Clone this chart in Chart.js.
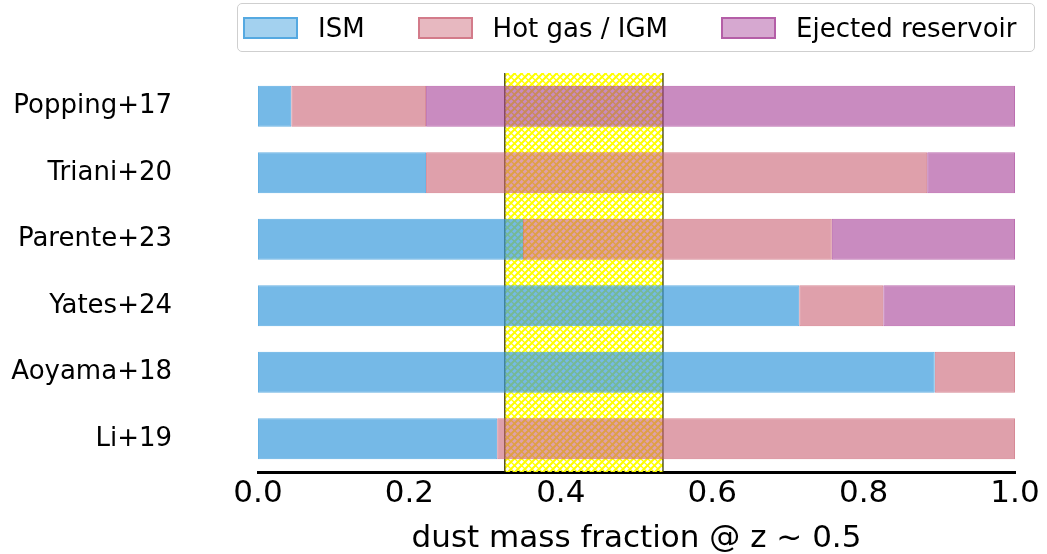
<!DOCTYPE html>
<html>
<head>
<meta charset="utf-8">
<script src="https://cdn.jsdelivr.net/npm/chart.js@4"></script>
<style>
  body { margin: 0; background: #fff; }
  #wrap { position: relative; width: 1047px; height: 554px; }
  #legend {
    position: absolute; left: 237px; top: 3px; width: 798px; height: 49px;
    box-sizing: border-box; border: 1px solid #cfcfcf; border-radius: 5px;
    display: flex; align-items: center; padding-left: 5px;
    font-family: 'DejaVu Sans', sans-serif; font-size: 26px; color: #000;
  }
  #legend .item { display: flex; align-items: center; margin-right: 53px; }
  #legend .item:last-child { margin-right: 0; }
  #legend .patch { width: 55px; height: 22px; box-sizing: border-box; margin-right: 20px; }
</style>
</head>
<body>
<div id="wrap">
  <canvas id="chart" width="1047" height="554"></canvas>
  <div id="legend"></div>
</div>
<script>
const categories = ['Popping+17', 'Triani+20', 'Parente+23', 'Yates+24', 'Aoyama+18', 'Li+19'];
const ism = [0.044, 0.222, 0.350, 0.715, 0.894, 0.316];
const hotGas = [0.178, 0.662, 0.408, 0.111, 0.106, 0.684];
const ejected = [0.778, 0.116, 0.242, 0.174, 0, 0];
const seriesNames = ['ISM', 'Hot gas / IGM', 'Ejected reservoir'];
const xTicks = [0.0, 0.2, 0.4, 0.6, 0.8, 1.0];
const band = [0.326, 0.535]; // observed range

const rgb = ['52,152,219', '202,97,115', '165,62,150'];
const fillAlpha = [0.68, 0.6, 0.6];

const FONT = "'DejaVu Sans', sans-serif";

function hatchPattern(ctx) {
  const s = 7;
  const c = document.createElement('canvas');
  c.width = s; c.height = s;
  const p = c.getContext('2d');
  p.strokeStyle = '#ffff00';
  // "/" lines
  p.lineWidth = 2.1;
  p.beginPath();
  for (let k = -1; k <= 1; k++) {
    p.moveTo(k * s - 1, s + 1); p.lineTo(k * s + s + 1, -1);
  }
  p.stroke();
  // "\" lines
  p.lineWidth = 1.3;
  p.beginPath();
  for (let k = -1; k <= 1; k++) {
    p.moveTo(k * s - 1, -1); p.lineTo(k * s + s + 1, s + 1);
  }
  p.stroke();
  return ctx.createPattern(c, 'repeat');
}

const bandPlugin = {
  id: 'band',
  beforeDatasetsDraw(chart) {
    const { ctx, chartArea, scales: { x } } = chart;
    const x0 = x.getPixelForValue(band[0]);
    const x1 = x.getPixelForValue(band[1]);
    ctx.save();
    ctx.fillStyle = hatchPattern(ctx);
    ctx.fillRect(x0, chartArea.top, x1 - x0, chartArea.bottom - chartArea.top);
    ctx.strokeStyle = '#333300';
    ctx.lineWidth = 1.2;
    ctx.beginPath();
    ctx.moveTo(x0, chartArea.top); ctx.lineTo(x0, chartArea.bottom);
    ctx.moveTo(x1, chartArea.top); ctx.lineTo(x1, chartArea.bottom);
    ctx.stroke();
    ctx.restore();
  }
};

const values = [ism, hotGas, ejected];
const datasets = values.map((data, i) => ({
  label: seriesNames[i],
  data,
  backgroundColor: `rgba(${rgb[i]},${fillAlpha[i]})`,
  borderColor: `rgba(${rgb[i]},0.75)`,
  borderWidth: 1,
  borderSkipped: false,
  categoryPercentage: 1,
  barPercentage: 0.62
}));

// html legend
const legendEl = document.getElementById('legend');
seriesNames.forEach((name, i) => {
  const item = document.createElement('div');
  item.className = 'item';
  const patch = document.createElement('span');
  patch.className = 'patch';
  patch.style.background = `rgba(${rgb[i]},0.45)`;
  patch.style.border = `2px solid rgba(${rgb[i]},0.7)`;
  const label = document.createElement('span');
  label.textContent = name;
  item.appendChild(patch);
  item.appendChild(label);
  legendEl.appendChild(item);
});

new Chart(document.getElementById('chart').getContext('2d'), {
  type: 'bar',
  data: { labels: categories, datasets },
  plugins: [bandPlugin],
  options: {
    indexAxis: 'y',
    responsive: false,
    animation: false,
    layout: { padding: { top: 73, right: 32, bottom: 0, left: 0 } },
    plugins: { legend: { display: false }, tooltip: { enabled: false } },
    scales: {
      x: {
        stacked: true,
        min: 0,
        max: 1,
        afterBuildTicks: axis => { axis.ticks = xTicks.map(v => ({ value: v })); },
        afterFit: axis => { axis.height = 82; },
        grid: { display: false, drawTicks: false },
        border: { display: true, color: '#000', width: 3 },
        ticks: {
          padding: 3,
          color: '#000',
          font: { family: FONT, size: 31 },
          callback: v => Number(v).toFixed(1)
        },
        title: {
          display: true,
          text: 'dust mass fraction @ z ~ 0.5',
          color: '#000',
          font: { family: FONT, size: 31, lineHeight: 1.0 },
          padding: 0
        }
      },
      y: {
        stacked: true,
        afterFit: axis => {
          axis.width = 258;
          axis.paddingTop = 0;
          axis.paddingBottom = 0;
        },
        grid: { display: false, drawTicks: false },
        border: { display: false },
        ticks: {
          padding: 86,
          color: '#000',
          font: { family: FONT, size: 26 }
        }
      }
    }
  }
});
</script>
</body>
</html>
